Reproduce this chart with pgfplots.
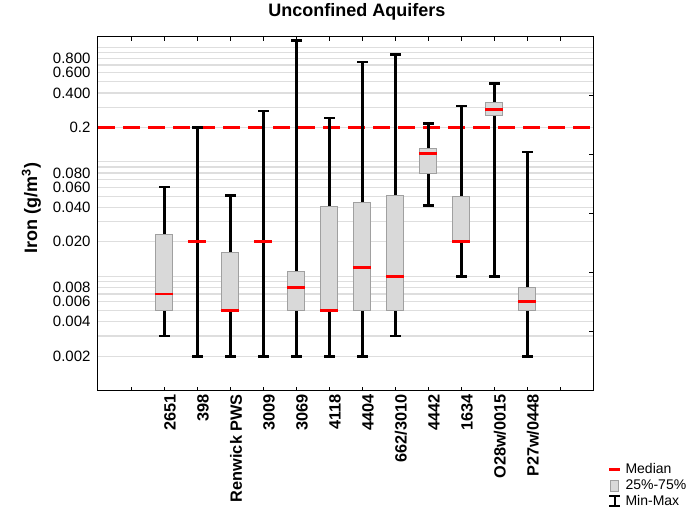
\documentclass[border=0pt]{standalone}
\usepackage{pgfplots}
\pgfplotsset{compat=1.18}
\usepackage{fontspec}
\setmainfont{Liberation Sans}
\definecolor{boxgray}{RGB}{217,217,217}
\definecolor{boxedge}{RGB}{160,160,160}
\definecolor{gridgray}{RGB}{222,222,222}
\definecolor{medred}{RGB}{255,0,0}
\begin{document}
\begin{tikzpicture}
\begin{axis}[
  scale only axis, width=495pt, height=354pt,
  ymode=log, ymin=0.001, ymax=1.24, xmin=0, xmax=15,
  clip=false,
  axis line style={black, line width=1pt},
  xtick={1,...,14},
  xticklabels={,2651,398,Renwick PWS,3009,3069,4118,4404,662/3010,4442,1634,O28w/0015,P27w/0448,},
  xtick pos=both, tick align=inside, major tick length=4pt,
  xtick style={black, line width=0.8pt},
  x tick label style={rotate=90, anchor=east, yshift=-6pt, font=\bfseries\fontsize{16.3}{17}\selectfont},
  ytick={0.002,0.004,0.006,0.008,0.02,0.04,0.06,0.08,0.2,0.4,0.6,0.8},
  yticklabels={0.002,0.004,0.006,0.008,0.020,0.040,0.060,0.080,0.2,0.400,0.600,0.800},
  minor ytick={0.002,0.003,0.004,0.005,0.006,0.007,0.008,0.009,0.01,0.02,0.03,0.04,0.05,0.06,0.07,0.08,0.09,0.1,0.2,0.3,0.4,0.5,0.6,0.7,0.8,0.9,1.0},
  ytick style={draw=none}, minor y tick style={draw=none},
  ymajorgrids, yminorgrids,
  major grid style={gridgray, line width=1.3pt},
  minor grid style={gridgray, line width=1.3pt},
  y tick label style={font=\fontsize{15}{16}\selectfont, xshift=-4pt},
  /pgf/number format/assume math mode=true,
  title={Unconfined Aquifers},
  title style={font=\bfseries\fontsize{18}{20}\selectfont, at={(rel axis cs:0.523,1)}, anchor=base, yshift=14.3pt},
  ylabel={Iron (g/m\textsuperscript{3})},
  ylabel style={font=\bfseries\fontsize{18}{20}\selectfont, at={(rel axis cs:-0.1232,0.5155)}, anchor=base},
  legend style={at={(rel axis cs:1.03,-0.2)}, anchor=north west, draw=none, fill=none, inner sep=0pt, row sep=0.5pt, column sep=2pt, font=\fontsize{14}{15}\selectfont},
  legend cell align=left,
]
% reference line
\addplot[medred, line width=2.5pt, dash pattern=on 17pt off 8pt, forget plot] coordinates {(0,0.2) (15,0.2)};

\pgfplotsset{
  whisk/.style={black, line width=3pt, mark=-, mark size=5.5pt, mark options={solid, line width=2.6pt}, forget plot},
  boxst/.style={fill=boxgray, draw=boxedge, line width=0.9pt, forget plot},
  med/.style={medred, line width=2.8pt, forget plot},
}
% 2651
\addplot[whisk] coordinates {(2,0.003) (2,0.06)};
\addplot[boxst] coordinates {(1.742,0.005) (2.258,0.005) (2.258,0.0233) (1.742,0.0233)} --cycle;
\addplot[med] coordinates {(1.72,0.007) (2.28,0.007)};
% 398
\addplot[whisk] coordinates {(3,0.002) (3,0.2)};
\addplot[med] coordinates {(2.72,0.02) (3.28,0.02)};
% Renwick PWS
\addplot[whisk] coordinates {(4,0.002) (4,0.0505)};
\addplot[boxst] coordinates {(3.742,0.005) (4.258,0.005) (4.258,0.016) (3.742,0.016)} --cycle;
\addplot[med] coordinates {(3.72,0.005) (4.28,0.005)};
% 3009
\addplot[whisk] coordinates {(5,0.002) (5,0.278)};
\addplot[med] coordinates {(4.72,0.02) (5.28,0.02)};
% 3069
\addplot[whisk] coordinates {(6,0.002) (6,1.15)};
\addplot[boxst] coordinates {(5.742,0.005) (6.258,0.005) (6.258,0.011) (5.742,0.011)} --cycle;
\addplot[med] coordinates {(5.72,0.008) (6.28,0.008)};
% 4118
\addplot[whisk] coordinates {(7,0.002) (7,0.242)};
\addplot[boxst] coordinates {(6.742,0.005) (7.258,0.005) (7.258,0.0405) (6.742,0.0405)} --cycle;
\addplot[med] coordinates {(6.72,0.005) (7.28,0.005)};
% 4404
\addplot[whisk] coordinates {(8,0.002) (8,0.746)};
\addplot[boxst] coordinates {(7.742,0.005) (8.258,0.005) (8.258,0.0445) (7.742,0.0445)} --cycle;
\addplot[med] coordinates {(7.72,0.012) (8.28,0.012)};
% 662/3010
\addplot[whisk] coordinates {(9,0.003) (9,0.865)};
\addplot[boxst] coordinates {(8.742,0.005) (9.258,0.005) (9.258,0.0505) (8.742,0.0505)} --cycle;
\addplot[med] coordinates {(8.72,0.01) (9.28,0.01)};
% 4442
\addplot[whisk] coordinates {(10,0.0416) (10,0.215)};
\addplot[boxst] coordinates {(9.742,0.0798) (10.258,0.0798) (10.258,0.132) (9.742,0.132)} --cycle;
\addplot[med] coordinates {(9.72,0.1185) (10.28,0.1185)};
% 1634
\addplot[whisk] coordinates {(11,0.01) (11,0.308)};
\addplot[boxst] coordinates {(10.742,0.02) (11.258,0.02) (11.258,0.05) (10.742,0.05)} --cycle;
\addplot[med] coordinates {(10.72,0.02) (11.28,0.02)};
% O28w/0015
\addplot[whisk] coordinates {(12,0.01) (12,0.482)};
\addplot[boxst] coordinates {(11.742,0.255) (12.258,0.255) (12.258,0.331) (11.742,0.331)} --cycle;
\addplot[med] coordinates {(11.72,0.286) (12.28,0.286)};
% P27w/0448
\addplot[whisk] coordinates {(13,0.002) (13,0.122)};
\addplot[boxst] coordinates {(12.742,0.005) (13.258,0.005) (13.258,0.008) (12.742,0.008)} --cycle;
\addplot[med] coordinates {(12.72,0.006) (13.28,0.006)};

% legend
\addlegendimage{legend image code/.code={\draw[medred, line width=2.5pt] (0pt,0pt) -- (11pt,0pt);}}
\addlegendentry{Median}
\addlegendimage{legend image code/.code={\draw[fill=boxgray, draw=boxedge, line width=0.8pt] (1.5pt,-5.5pt) rectangle (9.5pt,5.5pt);}}
\addlegendentry{25\%-75\%}
\addlegendimage{legend image code/.code={\draw[black, line width=2.2pt] (5.5pt,-5pt) -- (5.5pt,5pt); \draw[black, line width=2pt] (0pt,-5pt) -- (11pt,-5pt) (0pt,5pt) -- (11pt,5pt);}}
\addlegendentry{Min-Max}

\path (rel axis cs:-0.19798,-0.36158) rectangle (rel axis cs:1.20404,1.10169);
\end{axis}
\begin{axis}[
  scale only axis, width=495pt, height=354pt,
  xmin=0, xmax=15, ymin=0, ymax=6,
  axis x line=none, axis y line*=right,
  axis line style={black, line width=1pt},
  ytick={1,2,3,4,5}, yticklabels={},
  tick align=inside, major tick length=4pt,
  ytick style={black, line width=0.8pt},
]
\end{axis}
\end{tikzpicture}
\end{document}
